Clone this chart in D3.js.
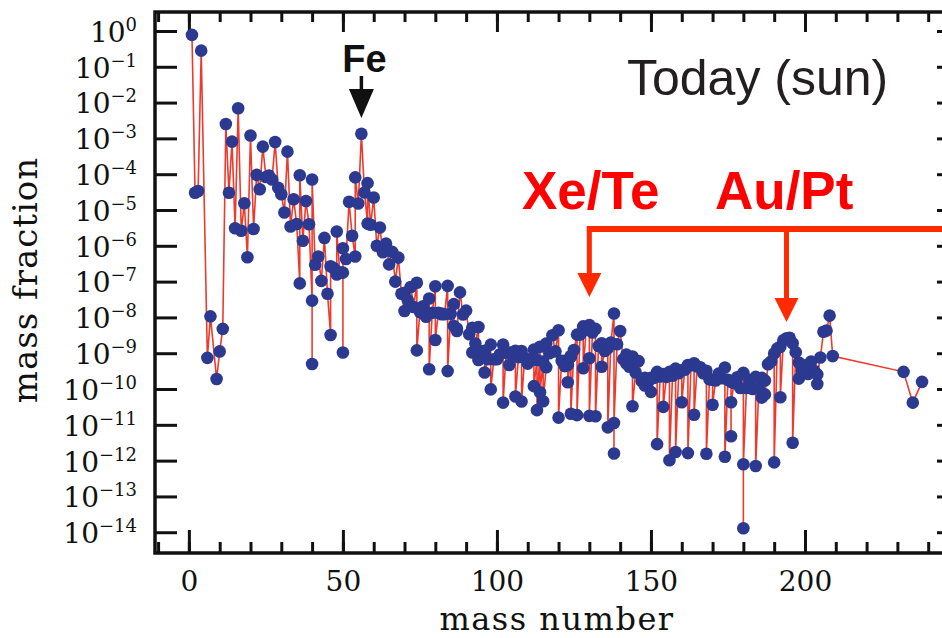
<!DOCTYPE html>
<html>
<head>
<meta charset="utf-8">
<script src="https://cdn.jsdelivr.net/npm/d3@7"></script>
<style>
  body { margin: 0; background: #fff; }
</style>
</head>
<body>
<script>
// isotopes in order of mass number (isobars in order of Z)
const massNumber = [
  1, 2, 3, 4, 6, 7, 9, 10, 11,
  12, 13, 14, 15, 16, 17, 18, 19, 20, 21,
  22, 23, 24, 25, 26, 27, 28, 29, 30, 31,
  32, 33, 34, 35, 36, 36, 37, 38, 39, 40, 40, 40, 41,
  42, 43, 44, 45, 46, 46, 47, 48, 48, 49, 50, 50, 50, 51,
  52, 53, 54, 54, 55, 56, 57, 58, 58, 59, 60, 61,
  62, 63, 64, 64, 65, 66, 67, 68, 69, 70, 70, 71,
  72, 73, 74, 74, 75, 76, 76, 77, 78, 78, 79, 80, 80, 81,
  82, 82, 83, 84, 84, 85, 86, 86, 87, 87, 88, 89, 90, 91,
  92, 92, 93, 94, 94, 95, 96, 96, 96, 97, 98, 98, 99, 100, 100, 101,
  102, 102, 103, 104, 104, 105, 106, 106, 107, 108, 108, 109, 110, 110, 111,
  112, 112, 113, 113, 114, 114, 115, 115, 116, 116, 117, 118, 119, 120, 120, 121,
  122, 122, 123, 123, 124, 124, 124, 125, 126, 126, 127, 128, 128, 129, 130, 130, 130, 131,
  132, 132, 133, 134, 134, 135, 136, 136, 136, 137, 138, 138, 138, 139, 140, 141,
  142, 142, 143, 144, 144, 145, 146, 147, 148, 148, 149, 150, 150, 151,
  152, 152, 153, 154, 154, 155, 156, 156, 157, 158, 158, 159, 160, 160, 161,
  162, 162, 163, 164, 164, 165, 166, 167, 168, 168, 169, 170, 170, 171,
  172, 173, 174, 174, 175, 176, 176, 176, 177, 178, 179, 180, 180, 180, 181,
  182, 183, 184, 184, 185, 186, 186, 187, 187, 188, 189, 190, 190, 191,
  192, 192, 193, 194, 195, 196, 196, 197, 198, 198, 199, 200, 201,
  202, 203, 204, 204, 205, 206, 207, 208, 209, 232, 235, 238
];

// log10 of the mass fraction, same order
const logFraction = [
  -0.11, -4.52, -4.47, -0.55, -9.13, -7.97, -9.72, -8.95, -8.32,
  -2.60, -4.52, -3.09, -5.51, -2.16, -5.58, -4.81, -6.32, -2.92, -5.53,
  -4.02, -4.42, -3.23, -4.08, -4.04, -4.15, -3.10, -4.38, -4.56, -5.07,
  -3.37, -5.46, -4.70, -5.39, -7.05, -4.03, -5.86, -4.75, -5.40, -7.53, -9.30, -4.15, -6.53,
  -6.30, -6.98, -5.78, -7.34, -8.49, -6.57, -6.62, -6.80, -5.60, -6.74, -6.75, -8.98, -6.07, -6.37,
  -4.77, -5.72, -6.30, -4.09, -4.82, -2.87, -4.51, -5.38, -4.25, -5.41, -4.65, -6.00,
  -5.49, -6.18, -6.07, -5.94, -6.52, -6.17, -7.00, -6.33, -7.34, -7.82, -7.31, -7.51,
  -7.15, -7.71, -7.03, -8.92, -7.85, -7.69, -7.89, -7.98, -7.47, -9.45, -7.87, -7.13, -8.63, -7.87,
  -7.89, -7.91, -7.91, -7.12, -9.50, -7.90, -7.63, -8.24, -8.31, -8.38, -7.30, -7.92, -7.81, -8.47,
  -8.29, -8.98, -8.73, -8.27, -9.19, -8.95, -9.05, -8.93, -9.54, -9.17, -8.76, -10.01, -9.17, -9.15, -9.17, -9.03,
  -8.76, -10.38, -8.99, -8.98, -9.33, -9.03, -8.93, -10.21, -9.11, -8.94, -10.35, -9.13, -9.29, -9.19, -9.18,
  -8.90, -9.92, -9.19, -10.59, -8.82, -10.09, -9.23, -10.34, -9.39, -8.73, -9.00, -8.50, -8.95, -8.36, -10.80, -9.21,
  -9.21, -9.36, -9.33, -9.81, -9.10, -9.08, -10.69, -8.91, -8.48, -10.73, -8.48, -8.25, -9.42, -8.34, -8.21, -9.14, -10.75, -8.42,
  -8.32, -10.76, -8.80, -8.72, -9.38, -8.94, -8.78, -8.86, -11.07, -8.70, -7.89, -11.80, -10.95, -8.75, -8.38, -9.17,
  -9.29, -9.04, -9.38, -9.09, -10.48, -9.54, -9.22, -9.78, -9.69, -9.90, -9.81, -9.69, -10.08, -9.69,
  -9.52, -11.54, -9.65, -9.58, -10.50, -9.66, -9.52, -11.99, -9.63, -9.43, -11.76, -9.56, -9.48, -10.37, -9.46,
  -9.33, -11.79, -9.34, -9.28, -10.72, -9.37, -9.39, -9.56, -9.49, -11.81, -9.73, -9.74, -10.44, -9.76,
  -9.57, -9.70, -9.40, -11.89, -9.74, -9.80, -11.32, -10.37, -9.83, -9.67, -9.97, -9.55, -13.89, -12.10, -9.97,
  -9.74, -10.00, -9.66, -12.15, -9.99, -9.69, -10.24, -9.76, -10.15, -9.31, -9.23, -9.01, -12.05, -8.87,
  -8.82, -10.23, -8.64, -8.58, -8.57, -8.72, -11.50, -8.97, -9.26, -9.71, -9.48, -9.34, -9.58,
  -9.23, -9.49, -9.86, -9.59, -9.12, -8.40, -8.37, -7.95, -9.08, -9.52, -10.38, -9.80
];

const yTickExponents = d3.range(0, -15, -1);
const xTickValues = [0, 50, 100, 150, 200];
const xMinorTicks = d3.range(-10, 251, 10);

const width = 942, height = 638;
const plotLeft = 155, plotRight = 959, plotTop = 12, plotBottom = 553;

const svg = d3.select('body').append('svg')
  .attr('width', width)
  .attr('height', height)

const x = d3.scaleLinear().domain([-11, 250]).range([plotLeft, plotRight]);
const y = d3.scaleLog().domain([Math.pow(10, 0.53), Math.pow(10, -14.58)]).range([plotTop, plotBottom]);

const data = d3.zip(massNumber, logFraction).map(d => ({a: d[0], v: Math.pow(10, d[1])}));

// axes (ticks only, frame drawn separately)
function styleAxis(g) {
  g.select('.domain').remove();
  g.selectAll('.tick line').attr('stroke', '#111').attr('stroke-width', 3);
}

svg.append('g').attr('transform', `translate(0,${plotBottom})`)
  .call(d3.axisBottom(x).tickValues(xMinorTicks).tickSizeInner(-11).tickSizeOuter(0).tickFormat(''))
  .call(styleAxis);
svg.append('g').attr('transform', `translate(0,${plotTop})`)
  .call(d3.axisTop(x).tickValues(xMinorTicks).tickSizeInner(-10).tickSizeOuter(0).tickFormat(''))
  .call(styleAxis);
svg.append('g').attr('transform', `translate(0,${plotTop})`)
  .call(d3.axisTop(x).tickValues(xTickValues).tickSizeInner(-20).tickSizeOuter(0).tickFormat(''))
  .call(styleAxis);

const xAxis = svg.append('g').attr('transform', `translate(0,${plotBottom})`)
  .call(d3.axisBottom(x).tickValues(xTickValues).tickSizeInner(-23).tickSizeOuter(0).tickPadding(18))
  .call(styleAxis);
xAxis.selectAll('.tick text')
  .attr('font-family', '"DejaVu Serif", serif')
  .attr('font-size', 28)
  .attr('fill', '#111');

const yTicks = yTickExponents.map(e => Math.pow(10, e));
const yAxis = svg.append('g').attr('transform', `translate(${plotLeft},0)`)
  .call(d3.axisLeft(y).tickValues(yTicks).tickSizeInner(-22).tickSizeOuter(0).tickPadding(18).tickFormat(''))
  .call(styleAxis);
yAxis.selectAll('.tick text')
  .attr('font-family', '"DejaVu Serif", serif')
  .attr('font-size', 28)
  .attr('fill', '#111')
  .attr('dy', '0.37em')
  .each(function(d) {
    const e = Math.round(Math.log10(d));
    const t = d3.select(this);
    t.append('tspan').text('10');
    t.append('tspan').attr('font-size', 18).attr('dy', -11)
      .text(e === 0 ? '0' : '\u2212' + Math.abs(e));
  });

svg.append('g').attr('transform', `translate(${plotRight},0)`)
  .call(d3.axisRight(y).tickValues(yTicks).tickSizeInner(-22).tickSizeOuter(0).tickFormat(''))
  .call(styleAxis);

// frame
svg.append('rect')
  .attr('x', plotLeft).attr('y', plotTop)
  .attr('width', plotRight - plotLeft).attr('height', plotBottom - plotTop)
  .attr('fill', 'none').attr('stroke', '#111').attr('stroke-width', 3.5);

// axis titles
svg.append('text')
  .attr('x', 557).attr('y', 630)
  .attr('text-anchor', 'middle')
  .attr('font-family', '"DejaVu Serif", serif')
  .attr('font-size', 32)
  .attr('letter-spacing', 1.5)
  .attr('fill', '#111')
  .text('mass number');

svg.append('text')
  .attr('transform', 'translate(37,280) rotate(-90)')
  .attr('text-anchor', 'middle')
  .attr('font-family', '"DejaVu Serif", serif')
  .attr('font-size', 34)
  .attr('letter-spacing', 1)
  .attr('fill', '#111')
  .text('mass fraction');

// data
const line = d3.line().x(d => x(d.a)).y(d => y(d.v));

svg.append('path')
  .datum(data)
  .attr('d', line)
  .attr('fill', 'none')
  .attr('stroke', '#ec3b2e')
  .attr('stroke-width', 1.6);

svg.selectAll('circle.pt')
  .data(data)
  .enter()
  .append('circle')
  .attr('class', 'pt')
  .attr('cx', d => x(d.a))
  .attr('cy', d => y(d.v))
  .attr('r', 6.3)
  .attr('fill', '#2b3990');

// annotations
svg.append('text')
  .attr('x', 627).attr('y', 95)
  .attr('font-family', '"Liberation Sans", Arial, sans-serif')
  .attr('font-size', 50)
  .attr('fill', '#231f20')
  .text('Today (sun)');

const feX = x(56);
svg.append('text')
  .attr('x', feX + 3).attr('y', 72)
  .attr('text-anchor', 'middle')
  .attr('font-family', '"Liberation Sans", Arial, sans-serif')
  .attr('font-weight', 'bold')
  .attr('font-size', 38)
  .attr('fill', '#111')
  .text('Fe');
svg.append('line')
  .attr('x1', feX).attr('x2', feX).attr('y1', 76).attr('y2', 92)
  .attr('stroke', '#111').attr('stroke-width', 3.5);
svg.append('path')
  .attr('d', `M${feX - 12.5},89 L${feX + 12.5},89 L${feX},118 Z`)
  .attr('fill', '#111');

const red = '#ff2a00';
svg.append('text')
  .attr('x', 522).attr('y', 209)
  .attr('font-family', '"Liberation Sans", Arial, sans-serif')
  .attr('font-weight', 'bold')
  .attr('font-size', 53)
  .attr('fill', '#ff0000')
  .text('Xe/Te');
svg.append('text')
  .attr('x', 715).attr('y', 209)
  .attr('font-family', '"Liberation Sans", Arial, sans-serif')
  .attr('font-weight', 'bold')
  .attr('font-size', 53)
  .attr('fill', '#ff0000')
  .text('Au/Pt');

const xeX = x(130), auX = x(194);
svg.append('line')
  .attr('x1', xeX - 2.5).attr('x2', width + 5).attr('y1', 229).attr('y2', 229)
  .attr('stroke', red).attr('stroke-width', 6);
svg.append('line')
  .attr('x1', xeX).attr('x2', xeX).attr('y1', 226).attr('y2', 275)
  .attr('stroke', red).attr('stroke-width', 5);
svg.append('path')
  .attr('d', `M${xeX - 12},273 L${xeX + 12},273 L${xeX},297 Z`)
  .attr('fill', red);
svg.append('line')
  .attr('x1', auX).attr('x2', auX).attr('y1', 229).attr('y2', 300)
  .attr('stroke', red).attr('stroke-width', 5);
svg.append('path')
  .attr('d', `M${auX - 12},298 L${auX + 12},298 L${auX},322 Z`)
  .attr('fill', red);
</script>
</body>
</html>
